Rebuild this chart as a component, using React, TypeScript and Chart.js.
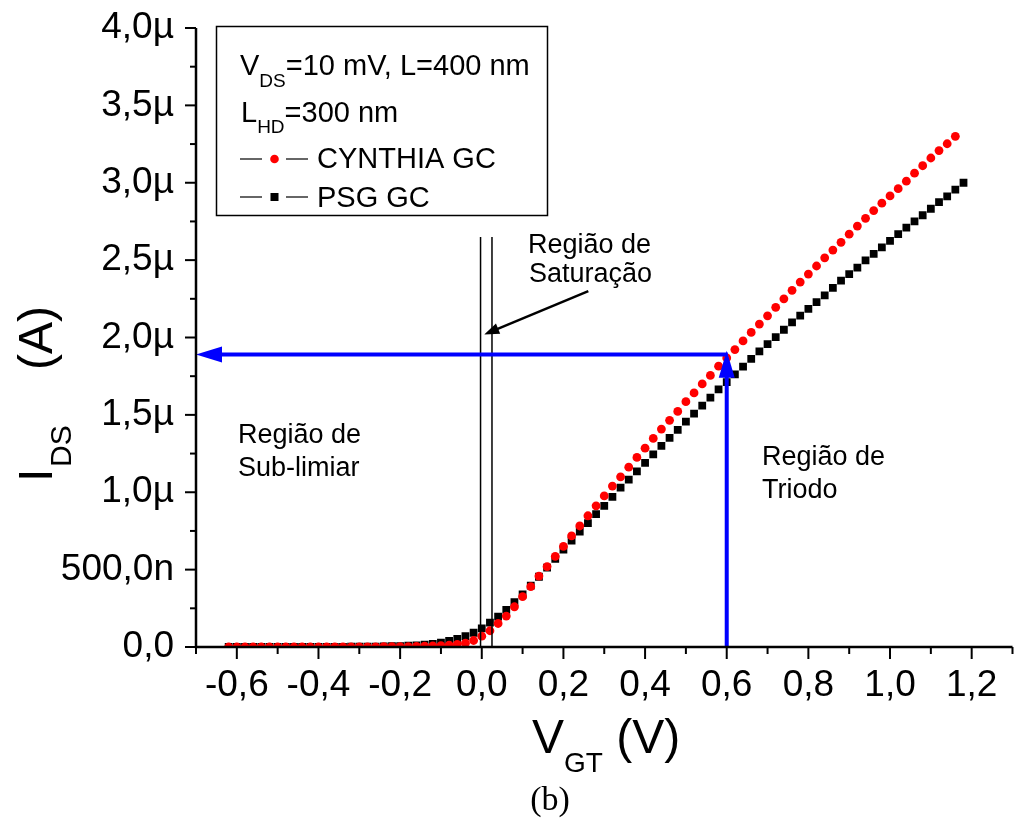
import React, { useEffect, useRef } from "react";
import { Chart, registerables } from "chart.js";

Chart.register(...registerables);

// ---- data (V_GT in V, I_DS in µA) ----
const vgtPsg = [
  -0.62, -0.60, -0.58, -0.56, -0.54, -0.52, -0.50, -0.48, -0.46, -0.44,
  -0.42, -0.40, -0.38, -0.36, -0.34, -0.32, -0.30, -0.28, -0.26, -0.24,
  -0.22, -0.20, -0.18, -0.16, -0.14, -0.12, -0.10, -0.08, -0.06, -0.04,
  -0.02, 0.00, 0.02, 0.04, 0.06, 0.08, 0.10, 0.12, 0.14, 0.16,
  0.18, 0.20, 0.22, 0.24, 0.26, 0.28, 0.30, 0.32, 0.34, 0.36,
  0.38, 0.40, 0.42, 0.44, 0.46, 0.48, 0.50, 0.52, 0.54, 0.56,
  0.58, 0.60, 0.62, 0.64, 0.66, 0.68, 0.70, 0.72, 0.74, 0.76,
  0.78, 0.80, 0.82, 0.84, 0.86, 0.88, 0.90, 0.92, 0.94, 0.96,
  0.98, 1.00, 1.02, 1.04, 1.06, 1.08, 1.10, 1.12, 1.14, 1.16,
  1.18,
];
const idsPsg = [
  0.000, 0.000, 0.000, 0.000, 0.000, 0.000, 0.000, 0.000, 0.000, 0.001,
  0.001, 0.001, 0.001, 0.001, 0.001, 0.002, 0.002, 0.002, 0.003, 0.004,
  0.005, 0.006, 0.008, 0.011, 0.015, 0.020, 0.028, 0.039, 0.052, 0.070,
  0.092, 0.120, 0.157, 0.196, 0.240, 0.290, 0.340, 0.396, 0.454, 0.513,
  0.570, 0.630, 0.687, 0.745, 0.800, 0.858, 0.912, 0.970, 1.030, 1.082,
  1.135, 1.190, 1.245, 1.300, 1.352, 1.403, 1.456, 1.508, 1.560, 1.612,
  1.665, 1.712, 1.762, 1.812, 1.862, 1.910, 1.957, 2.003, 2.050, 2.098,
  2.142, 2.185, 2.228, 2.272, 2.320, 2.368, 2.410, 2.452, 2.498, 2.540,
  2.582, 2.625, 2.668, 2.710, 2.750, 2.790, 2.832, 2.875, 2.912, 2.955,
  3.000,
];
const vgtCynthia = [
  -0.62, -0.60, -0.58, -0.56, -0.54, -0.52, -0.50, -0.48, -0.46, -0.44,
  -0.42, -0.40, -0.38, -0.36, -0.34, -0.32, -0.30, -0.28, -0.26, -0.24,
  -0.22, -0.20, -0.18, -0.16, -0.14, -0.12, -0.10, -0.08, -0.06, -0.04,
  -0.02, 0.00, 0.02, 0.04, 0.06, 0.08, 0.10, 0.12, 0.14, 0.16,
  0.18, 0.20, 0.22, 0.24, 0.26, 0.28, 0.30, 0.32, 0.34, 0.36,
  0.38, 0.40, 0.42, 0.44, 0.46, 0.48, 0.50, 0.52, 0.54, 0.56,
  0.58, 0.60, 0.62, 0.64, 0.66, 0.68, 0.70, 0.72, 0.74, 0.76,
  0.78, 0.80, 0.82, 0.84, 0.86, 0.88, 0.90, 0.92, 0.94, 0.96,
  0.98, 1.00, 1.02, 1.04, 1.06, 1.08, 1.10, 1.12, 1.14, 1.16,
];
const idsCynthia = [
  0.000, 0.000, 0.000, 0.000, 0.000, 0.000, 0.000, 0.000, 0.000, 0.000,
  0.000, 0.000, 0.001, 0.001, 0.001, 0.001, 0.001, 0.001, 0.001, 0.002,
  0.002, 0.002, 0.003, 0.004, 0.005, 0.007, 0.009, 0.012, 0.017, 0.025,
  0.042, 0.070, 0.105, 0.152, 0.200, 0.260, 0.325, 0.390, 0.458, 0.520,
  0.585, 0.650, 0.718, 0.782, 0.848, 0.912, 0.976, 1.040, 1.100, 1.162,
  1.225, 1.285, 1.348, 1.408, 1.465, 1.522, 1.585, 1.642, 1.700, 1.755,
  1.815, 1.868, 1.922, 1.978, 2.033, 2.087, 2.140, 2.195, 2.250, 2.305,
  2.358, 2.410, 2.462, 2.515, 2.565, 2.615, 2.668, 2.720, 2.770, 2.820,
  2.868, 2.915, 2.962, 3.010, 3.062, 3.110, 3.160, 3.208, 3.252, 3.300,
];

const xTicks = [-0.6, -0.4, -0.2, 0.0, 0.2, 0.4, 0.6, 0.8, 1.0, 1.2];
const xTickLabels = ["-0,6", "-0,4", "-0,2", "0,0", "0,2", "0,4", "0,6", "0,8", "1,0", "1,2"];
const xMinorTicks = [-0.7, -0.5, -0.3, -0.1, 0.1, 0.3, 0.5, 0.7, 0.9, 1.1, 1.3];
const yTicks = [0, 0.5, 1.0, 1.5, 2.0, 2.5, 3.0, 3.5, 4.0];
const yTickLabels = ["0,0", "500,0n", "1,0µ", "1,5µ", "2,0µ", "2,5µ", "3,0µ", "3,5µ", "4,0µ"];
const yMinorTicks = [0.25, 0.75, 1.25, 1.75, 2.25, 2.75, 3.25, 3.75];

const saturationLinesVgt = [-0.003, 0.025];
const saturationLinesTop = 2.65;
const saturationArrowFrom = [0.261, 2.3];
const saturationArrowTo = [0.006, 2.02];
const operatingVgt = 0.6;
const operatingIds = 1.89;
const operatingArrowTip = 1.915;

const FONT = "'Liberation Sans', Arial, Helvetica, sans-serif";

function arrowHead(ctx: CanvasRenderingContext2D, x1: number, y1: number, x2: number, y2: number, len: number, half: number) {
  const a = Math.atan2(y2 - y1, x2 - x1);
  ctx.beginPath();
  ctx.moveTo(x2, y2);
  ctx.lineTo(x2 - len * Math.cos(a) + half * Math.sin(a), y2 - len * Math.sin(a) - half * Math.cos(a));
  ctx.lineTo(x2 - len * Math.cos(a) - half * Math.sin(a), y2 - len * Math.sin(a) + half * Math.cos(a));
  ctx.closePath();
  ctx.fill();
}

function textWithSub(ctx: CanvasRenderingContext2D, x: number, y: number, main: string, sub: string, rest: string, size: number, subSize: number, subDrop: number) {
  ctx.font = `${size}px ${FONT}`;
  ctx.fillText(main, x, y);
  let cx = x + ctx.measureText(main).width;
  ctx.font = `${subSize}px ${FONT}`;
  ctx.fillText(sub, cx, y + subDrop);
  cx += ctx.measureText(sub).width;
  ctx.font = `${size}px ${FONT}`;
  ctx.fillText(rest, cx, y);
}

const decorPlugin = {
  id: "decor",
  afterDatasetsDraw(chart: any) {
    const ctx: CanvasRenderingContext2D = chart.ctx;
    const xs = chart.scales.x;
    const ys = chart.scales.y;
    const area = chart.chartArea;
    ctx.save();
    // saturation boundary lines
    ctx.strokeStyle = "#000";
    ctx.lineWidth = 1.5;
    for (const v of saturationLinesVgt) {
      const px = xs.getPixelForValue(v);
      ctx.beginPath();
      ctx.moveTo(px, ys.getPixelForValue(saturationLinesTop));
      ctx.lineTo(px, ys.getPixelForValue(0));
      ctx.stroke();
    }
    // black arrow
    const ax1 = xs.getPixelForValue(saturationArrowFrom[0]);
    const ay1 = ys.getPixelForValue(saturationArrowFrom[1]);
    const ax2 = xs.getPixelForValue(saturationArrowTo[0]);
    const ay2 = ys.getPixelForValue(saturationArrowTo[1]);
    ctx.lineWidth = 2.5;
    ctx.beginPath();
    ctx.moveTo(ax1, ay1);
    const ang = Math.atan2(ay2 - ay1, ax2 - ax1);
    ctx.lineTo(ax2 - 10 * Math.cos(ang), ay2 - 10 * Math.sin(ang));
    ctx.stroke();
    ctx.fillStyle = "#000";
    arrowHead(ctx, ax1, ay1, ax2, ay2, 15, 5.5);

    // blue arrows
    const bx = xs.getPixelForValue(operatingVgt);
    const by = ys.getPixelForValue(operatingIds);
    const btip = ys.getPixelForValue(operatingArrowTip);
    ctx.strokeStyle = "#0000ff";
    ctx.fillStyle = "#0000ff";
    ctx.lineWidth = 4;
    ctx.beginPath();
    ctx.moveTo(bx + 1, by);
    ctx.lineTo(area.left + 20, by);
    ctx.stroke();
    arrowHead(ctx, bx, by, area.left, by, 26, 8);
    ctx.beginPath();
    ctx.moveTo(bx, ys.getPixelForValue(0));
    ctx.lineTo(bx, btip + 20);
    ctx.stroke();
    arrowHead(ctx, bx, ys.getPixelForValue(0), bx, btip, 27, 8);
    ctx.restore();
  },
  afterDraw(chart: any) {
    const ctx: CanvasRenderingContext2D = chart.ctx;
    const xs = chart.scales.x;
    const ys = chart.scales.y;
    const area = chart.chartArea;
    ctx.save();
    ctx.strokeStyle = "#000";
    ctx.fillStyle = "#000";
    // axes lines
    ctx.lineWidth = 2.5;
    ctx.beginPath();
    ctx.moveTo(area.left, area.top);
    ctx.lineTo(area.left, area.bottom);
    ctx.lineTo(area.right, area.bottom);
    ctx.stroke();
    // ticks
    ctx.lineWidth = 2;
    for (const v of xTicks) {
      const p = xs.getPixelForValue(v);
      ctx.beginPath(); ctx.moveTo(p, area.bottom); ctx.lineTo(p, area.bottom + 12); ctx.stroke();
    }
    for (const v of xMinorTicks) {
      const p = xs.getPixelForValue(v);
      ctx.beginPath(); ctx.moveTo(p, area.bottom); ctx.lineTo(p, area.bottom + 7); ctx.stroke();
    }
    for (const v of yTicks) {
      const p = ys.getPixelForValue(v);
      ctx.beginPath(); ctx.moveTo(area.left, p); ctx.lineTo(area.left - 11, p); ctx.stroke();
    }
    for (const v of yMinorTicks) {
      const p = ys.getPixelForValue(v);
      ctx.beginPath(); ctx.moveTo(area.left, p); ctx.lineTo(area.left - 6, p); ctx.stroke();
    }

    // legend box
    ctx.lineWidth = 1.5;
    ctx.strokeRect(216.5, 26.5, 331, 189);
    ctx.textBaseline = "alphabetic";
    ctx.textAlign = "left";
    textWithSub(ctx, 240, 75, "V", "DS", "=10 mV, L=400 nm", 29, 19, 12);
    textWithSub(ctx, 241, 122, "L", "HD", "=300 nm", 29, 19, 11);
    ctx.lineWidth = 1.2;
    for (const [yy] of [[159], [197]]) {
      ctx.beginPath(); ctx.moveTo(240, yy); ctx.lineTo(262, yy); ctx.stroke();
      ctx.beginPath(); ctx.moveTo(286, yy); ctx.lineTo(308, yy); ctx.stroke();
    }
    ctx.fillStyle = "#ff0000";
    ctx.beginPath(); ctx.arc(274.5, 159, 4.3, 0, Math.PI * 2); ctx.fill();
    ctx.fillStyle = "#000";
    ctx.fillRect(270.5, 193, 8, 8);
    ctx.font = `29px ${FONT}`;
    ctx.fillText("CYNTHIA GC", 317, 168);
    ctx.fillText("PSG GC", 317, 207);

    // region labels
    ctx.font = `27px ${FONT}`;
    ctx.fillText("Região de", 528, 253);
    ctx.fillText("Saturação", 529, 282);
    ctx.fillText("Região de", 238, 443);
    ctx.fillText("Sub-limiar", 238, 476);
    ctx.fillText("Região de", 762, 465);
    ctx.fillText("Triodo", 762, 498);

    // x title
    textWithSub(ctx, 532, 753, "V", "GT", " (V)", 48, 28, 19);
    // y title
    ctx.save();
    ctx.translate(52, 0);
    ctx.rotate(-Math.PI / 2);
    ctx.font = `48px ${FONT}`;
    ctx.fillText("I", -482, 0);
    ctx.font = `30px ${FONT}`;
    ctx.fillText("DS", -467, 19);
    ctx.font = `48px ${FONT}`;
    ctx.fillText("(A)", -370, 0);
    ctx.restore();
    // caption
    ctx.font = `34px 'Liberation Serif', 'Times New Roman', serif`;
    ctx.textAlign = "center";
    ctx.fillText("(b)", 550, 810);
    ctx.restore();
  },
};

export default function App() {
  const ref = useRef<HTMLCanvasElement | null>(null);
  useEffect(() => {
    document.body.style.margin = "0";
    const canvas = ref.current!;
    const chart = new Chart(canvas, {
      type: "scatter",
      data: {
        datasets: [
          {
            label: "CYNTHIA GC",
            data: vgtCynthia.map((v, i) => ({ x: v, y: idsCynthia[i] })),
            pointStyle: "circle",
            pointRadius: 4.4,
            pointBackgroundColor: "#ff0000",
            pointBorderWidth: 0,
            showLine: false,
          },
          {
            label: "PSG GC",
            data: vgtPsg.map((v, i) => ({ x: v, y: idsPsg[i] })),
            pointStyle: "rect",
            pointRadius: 5.5,
            pointBackgroundColor: "#000000",
            pointBorderWidth: 0,
            showLine: false,
          },
        ],
      },
      options: {
        animation: false,
        responsive: false,
        devicePixelRatio: 1,
        layout: { padding: { top: 28, right: 2, left: 0, bottom: 0 } },
        plugins: { legend: { display: false }, tooltip: { enabled: false } },
        scales: {
          x: {
            type: "linear",
            min: -0.7,
            max: 1.3,
            grid: { display: false, drawTicks: false },
            border: { display: false },
            afterBuildTicks: (s: any) => { s.ticks = xTicks.map((v) => ({ value: v })); },
            afterFit: (s: any) => { s.height = 176; s.paddingLeft = 0; s.paddingRight = 0; },
            ticks: {
              autoSkip: false,
              maxRotation: 0,
              padding: 17,
              color: "#000",
              font: { family: FONT, size: 37 },
              callback: (v: any) => {
                const i = xTicks.findIndex((t) => Math.abs(t - v) < 1e-6);
                return i >= 0 ? xTickLabels[i] : "";
              },
            },
          },
          y: {
            type: "linear",
            min: 0,
            max: 4,
            grid: { display: false, drawTicks: false },
            border: { display: false },
            afterBuildTicks: (s: any) => { s.ticks = yTicks.map((v) => ({ value: v })); },
            afterFit: (s: any) => { s.width = 196; s.paddingTop = 0; s.paddingBottom = 0; },
            ticks: {
              autoSkip: false,
              padding: 22,
              color: "#000",
              font: { family: FONT, size: 37 },
              callback: (v: any) => {
                const i = yTicks.findIndex((t) => Math.abs(t - v) < 1e-6);
                return i >= 0 ? yTickLabels[i] : "";
              },
            },
          },
        },
      },
      plugins: [decorPlugin],
    });
    return () => chart.destroy();
  }, []);
  return <canvas ref={ref} width={1018} height={823} style={{ display: "block" }} />;
}
